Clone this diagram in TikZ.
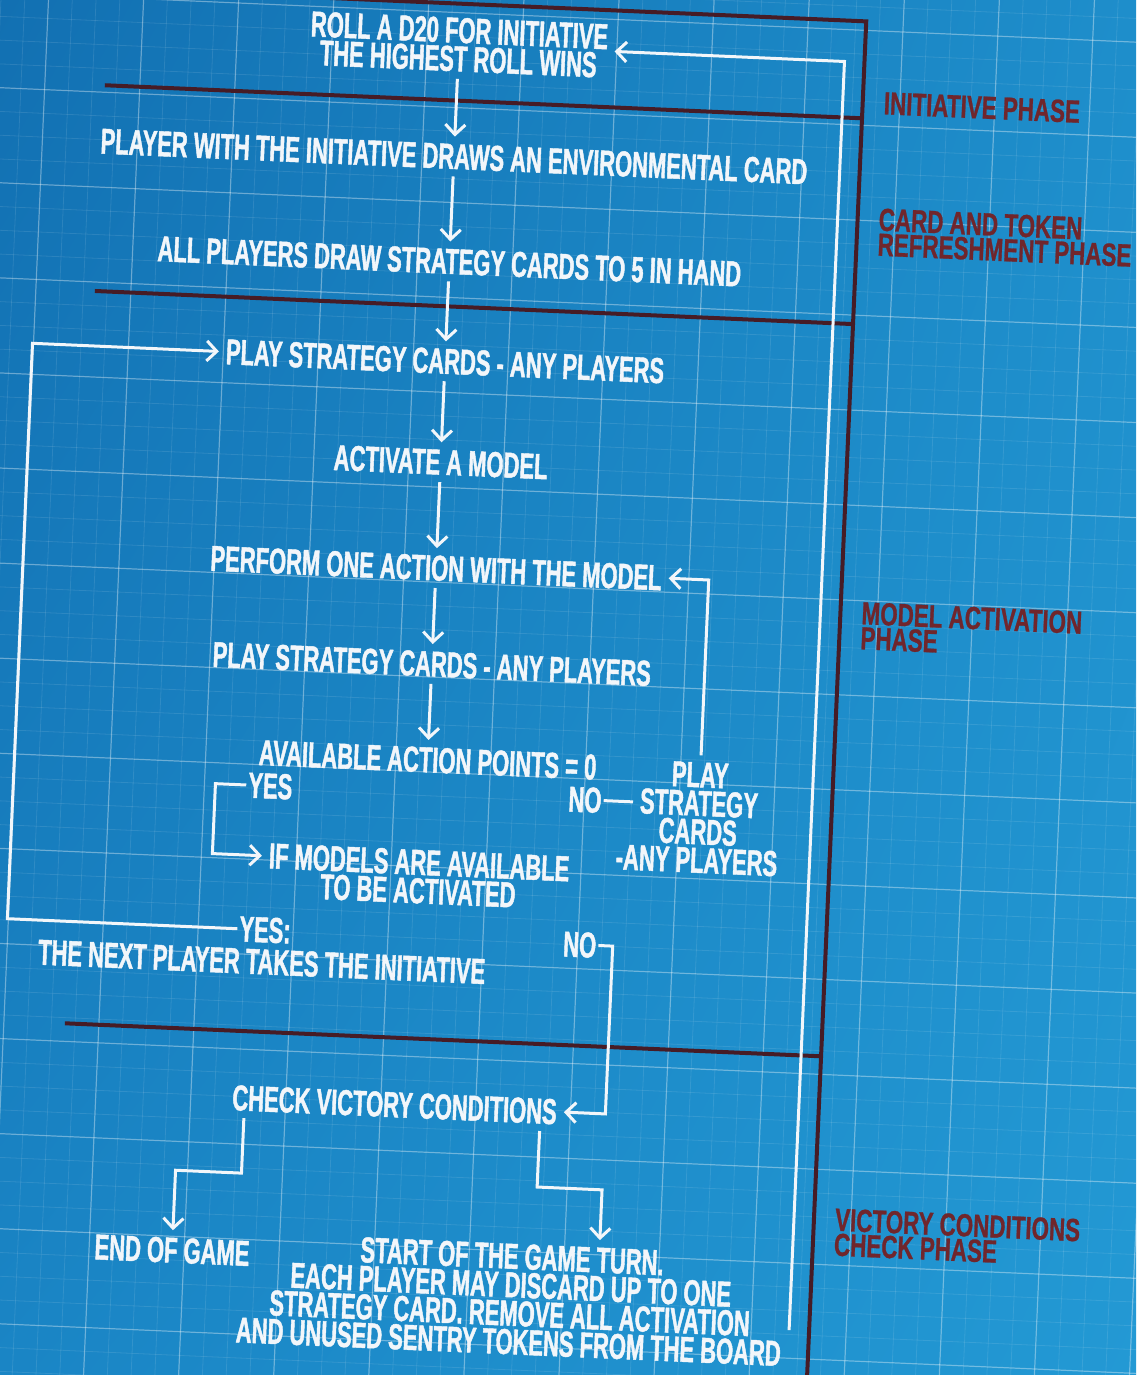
\documentclass[tikz,border=0pt]{standalone}
\usepackage{fontspec}
\usetikzlibrary{arrows.meta,shadings}
\newfontfamily\condfont{Liberation Sans}[FakeStretch=0.61,FakeBold=1.2]
\newfontfamily\lblfontfam{Liberation Sans}[FakeStretch=0.7,FakeBold=0.8]
\newcommand\mainfnt{\condfont\bfseries\fontsize{36}{28.5}\selectfont}
\newcommand\lblfnt{\lblfontfam\bfseries\fontsize{32}{25}\selectfont}
\definecolor{bgA}{RGB}{18,112,178}
\definecolor{bgB}{RGB}{30,142,203}
\definecolor{bgC}{RGB}{26,133,197}
\definecolor{bgD}{RGB}{35,153,212}
\definecolor{sepdark}{RGB}{70,28,38}
\definecolor{phasered}{RGB}{112,38,44}
\definecolor{wtxt}{RGB}{242,246,250}
\tikzset{
  txt/.style={text=wtxt, font=\mainfnt, align=center, inner sep=7pt},
  tight/.style={txt, inner sep=2pt},
  lbl/.style={text=phasered, font=\lblfnt, align=left, anchor=west, inner sep=0pt},
  flow/.style={draw=wtxt, line width=3pt, -{Straight Barb[length=10pt,width=20pt]}},
  wline/.style={draw=wtxt, line width=3pt},
  sepline/.style={draw=sepdark, line width=4pt},
  gridmaj/.style={draw=white, opacity=0.3, line width=1.2pt},
  gridmin/.style={draw=white, opacity=0.1, line width=0.8pt},
}
\begin{document}
\begin{tikzpicture}[x=1pt,y=-1pt]
\useasboundingbox (0,0) rectangle (1136,1375);
\clip (0,0) rectangle (1136,1375);
\shade[upper left=bgA, upper right=bgB, lower left=bgC, lower right=bgD] (0,0) rectangle (1136,1375);
\begin{scope}[rotate around={-2.5:(568,687)}, transform shape]
% grid
\foreach \k in {-16,...,64} \draw[gridmin] ({19+23.75*\k},-200) -- ({19+23.75*\k},1600);
\foreach \k in {-16,...,76} \draw[gridmin] (-200,{18+23.75*\k}) -- (1400,{18+23.75*\k});
\foreach \k in {-4,...,16} \draw[gridmaj] ({19+95*\k},-200) -- ({19+95*\k},1600);
\foreach \k in {-4,...,19} \draw[gridmaj] (-200,{18+95*\k}) -- (1400,{18+95*\k});
% phase separators
\coordinate (s0l) at (78,9);    \coordinate (s0r) at (837,9);
\coordinate (s1l) at (79,106);  \coordinate (s1r) at (837,106);
\coordinate (s2l) at (78,312);  \coordinate (s2r) at (837,312);
\coordinate (s3l) at (80,1045); \coordinate (s3r) at (837,1045);
\coordinate (vb) at (837,1500);
\draw[sepline] (s0l) -- (s0r) -- (vb);
\draw[sepline] (s1l) -- (s1r);
\draw[sepline] (s2l) -- (s2r);
\draw[sepline] (s3l) -- (s3r);
% phase labels
\node[lbl] (ph1) at (858,90) {INITIATIVE PHASE};
\node[lbl] (ph2) at (858,219) {CARD AND TOKEN\\REFRESHMENT PHASE};
\node[lbl] (ph3) at (858,613) {MODEL ACTIVATION\\PHASE};
\node[lbl] (ph4) at (858,1220) {VICTORY CONDITIONS\\CHECK PHASE};
% main nodes
\node[txt] (roll) at (431,50) {ROLL A D20 FOR INITIATIVE\\THE HIGHEST ROLL WINS};
\node[txt] (player) at (431,162) {PLAYER WITH THE INITIATIVE DRAWS AN ENVIRONMENTAL CARD};
\node[txt] (allp) at (431,267) {ALL PLAYERS DRAW STRATEGY CARDS TO 5 IN HAND};
\node[txt] (play1) at (431,367) {PLAY STRATEGY CARDS - ANY PLAYERS};
\node[txt] (activate) at (431,468) {ACTIVATE A MODEL};
\node[txt] (perform) at (431,574) {PERFORM ONE ACTION WITH THE MODEL};
\node[txt] (play2) at (431,670) {PLAY STRATEGY CARDS - ANY PLAYERS};
\node[txt] (avail) at (431,766) {AVAILABLE ACTION POINTS = 0};
\node[tight] (yes1) at (275,799) {YES};
\node[tight] (no1) at (590,799) {NO};
\node[txt] (playsc) at (704,812) {PLAY\\STRATEGY\\CARDS\\-ANY PLAYERS};
\node[txt] (ifm) at (427,883) {IF MODELS ARE AVAILABLE\\TO BE ACTIVATED};
\node[tight] (yes2) at (276,943) {YES:};
\node[txt] (nextp) at (274,975) {THE NEXT PLAYER TAKES THE INITIATIVE};
\node[tight] (no2) at (591,944) {NO};
\node[txt] (check) at (413,1112) {CHECK VICTORY CONDITIONS};
\node[txt] (endg) at (197,1267) {END OF GAME};
\node[txt] (start) at (537,1301) {START OF THE GAME TURN.\\EACH PLAYER MAY DISCARD UP TO ONE\\STRATEGY CARD. REMOVE ALL ACTIVATION\\AND UNUSED SENTRY TOKENS FROM THE BOARD};
% main chain
\draw[flow] (roll) -- (player);
\draw[flow] (player) -- (allp);
\draw[flow] (allp) -- (play1);
\draw[flow] (play1) -- (activate);
\draw[flow] (activate) -- (perform);
\draw[flow] (perform) -- (play2);
\draw[flow] (play2) -- (avail);
% yes bracket
\coordinate (yb1) at (220,799);
\coordinate (yb2) at (220,869);
\draw[flow] (yes1.west) -- (yb1) -- (yb2) -- ([yshift=14pt]ifm.west);
% no line
\coordinate (nl) at (638,799);
\draw[wline] (no1.east) -- (nl);
% feedback loop
\coordinate (fb) at (704,574);
\draw[flow] (playsc.north) -- (fb) -- (perform.east);
% next player loop
\coordinate (lb) at (18,943);
\coordinate (lt) at (18,367);
\draw[flow] (yes2.west) -- (lb) -- (lt) -- (play1.west);
% no to check
\coordinate (nc1) at (624,944);
\coordinate (nc2) at (624,1112);
\draw[flow] (no2.east) -- (nc1) -- (nc2) -- (check.east);
% check to end
\coordinate (e1) at (263,1187);
\coordinate (e2) at (197,1187);
\draw[flow] ([xshift=-150pt]check.south) -- (e1) -- (e2) -- (endg.north);
% check to start
\coordinate (t1) at (559,1188);
\coordinate (t2) at (624,1188);
\draw[flow] ([xshift=146pt]check.south) -- (t1) -- (t2) -- ([xshift=87pt]start.north);
% return to top
\coordinate (rs) at (817,1320);
\coordinate (rt) at (817,50);
\draw[flow] (rs) -- (rt) -- (roll.east);
\end{scope}
\end{tikzpicture}
\end{document}
